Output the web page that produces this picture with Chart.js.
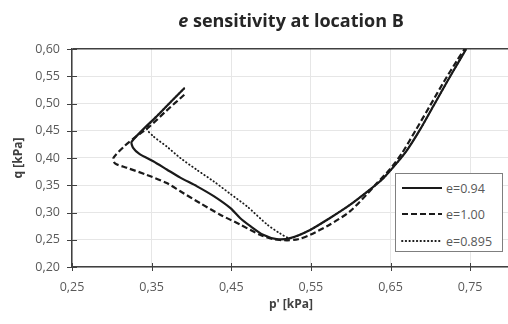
<!DOCTYPE html>
<html>
<head>
<meta charset="utf-8">
<script src="https://cdn.jsdelivr.net/npm/chart.js@4/dist/chart.umd.min.js"></script>
<style>
  html, body { margin: 0; padding: 0; background: #fff; overflow: hidden; }
  #wrap { position: relative; width: 512px; height: 324px; }
  #title {
    position: absolute; left: 72px; width: 438px; top: 8px; line-height: 24px;
    text-align: center; font: bold 18px "Open Sans", sans-serif; color: #262626;
  }
  #legend {
    position: absolute; left: 395px; top: 173px; width: 108px; height: 79px;
    box-sizing: border-box; border: 1.5px solid #7f7f7f; background: #fff;
  }
  .row {
    position: absolute; left: 5px; height: 16px; display: flex; align-items: center;
    font: 12.5px "Open Sans", sans-serif; color: #595959; white-space: nowrap;
  }
  .row svg { margin-right: 4px; }
</style>
</head>
<body>
<div id="wrap">
  <canvas id="c" width="512" height="324"></canvas>
  <div id="title"><i>e</i> sensitivity at location B</div>
  <div id="legend"></div>
</div>
<script>
// Tick values for both axes
const xTicks = [0.25, 0.35, 0.45, 0.55, 0.65, 0.75];
const yTicks = [0.20, 0.25, 0.30, 0.35, 0.40, 0.45, 0.50, 0.55, 0.60];

// Series labels
const seriesLabels = ['e=0.94', 'e=1.00', 'e=0.895'];

// Stress path e=0.94 (p' and q in kPa)
const pE094 = [0.391, 0.358, 0.325, 0.327, 0.335, 0.352, 0.369, 0.386, 0.407, 0.428, 0.449, 0.461, 0.474, 0.490, 0.507, 0.524, 0.549, 0.574, 0.599, 0.624, 0.641, 0.658, 0.671, 0.687, 0.704, 0.721, 0.737, 0.745];
const qE094 = [0.528, 0.479, 0.430, 0.418, 0.407, 0.394, 0.379, 0.364, 0.348, 0.330, 0.308, 0.290, 0.275, 0.259, 0.251, 0.253, 0.268, 0.290, 0.314, 0.342, 0.363, 0.391, 0.415, 0.452, 0.496, 0.540, 0.580, 0.600];

// Stress path e=1.00
const pE100 = [0.391, 0.368, 0.346, 0.331, 0.316, 0.302, 0.304, 0.319, 0.344, 0.369, 0.386, 0.411, 0.436, 0.461, 0.486, 0.503, 0.520, 0.534, 0.549, 0.574, 0.599, 0.620, 0.633, 0.649, 0.664, 0.682, 0.700, 0.717, 0.734, 0.743];
const qE100 = [0.516, 0.486, 0.456, 0.440, 0.422, 0.400, 0.390, 0.382, 0.369, 0.354, 0.339, 0.317, 0.296, 0.278, 0.259, 0.251, 0.249, 0.251, 0.259, 0.278, 0.302, 0.333, 0.354, 0.379, 0.408, 0.452, 0.497, 0.540, 0.580, 0.600];

// Stress path e=0.895
const pE0895 = [0.391, 0.366, 0.344, 0.352, 0.369, 0.386, 0.407, 0.428, 0.449, 0.470, 0.495, 0.511, 0.524, 0.549, 0.574, 0.599, 0.624, 0.641, 0.658, 0.671, 0.687, 0.704, 0.721, 0.737, 0.745];
const qE0895 = [0.528, 0.491, 0.455, 0.440, 0.421, 0.400, 0.378, 0.357, 0.334, 0.311, 0.278, 0.262, 0.253, 0.268, 0.290, 0.314, 0.342, 0.363, 0.391, 0.415, 0.452, 0.496, 0.540, 0.580, 0.600];

const toPoints = (ps, qs) => ps.map((p, i) => ({ x: p, y: qs[i] }));
const commaFmt = v => Number(v).toFixed(2).replace('.', ',');

const AXIS = '#404040';
const GRID = '#e6e6e6';
const LABEL = '#595959';
const FONT = '"Open Sans", sans-serif';

// Excel-style tick marks that cross the axis line
const crossTicks = {
  id: 'crossTicks',
  afterDraw(chart) {
    const { ctx, chartArea, scales } = chart;
    ctx.save();
    ctx.strokeStyle = AXIS;
    ctx.lineWidth = 1;
    ctx.beginPath();
    xTicks.forEach(v => {
      const x = Math.round(scales.x.getPixelForValue(v)) + 0.5;
      ctx.moveTo(x, chartArea.bottom - 4);
      ctx.lineTo(x, chartArea.bottom + 4);
    });
    yTicks.forEach(v => {
      const y = Math.round(scales.y.getPixelForValue(v)) + 0.5;
      ctx.moveTo(chartArea.left - 5, y);
      ctx.lineTo(chartArea.left + 5, y);
    });
    ctx.stroke();
    ctx.restore();
  }
};

const chart = new Chart(document.getElementById('c'), {
  type: 'scatter',
  data: {
    datasets: [
      { label: seriesLabels[0], data: toPoints(pE094, qE094), borderWidth: 2.2, borderDash: [] },
      { label: seriesLabels[1], data: toPoints(pE100, qE100), borderWidth: 2.2, borderDash: [6, 3] },
      { label: seriesLabels[2], data: toPoints(pE0895, qE0895), borderWidth: 1.8, borderDash: [0.5, 3.2], borderCapStyle: 'round' }
    ].map(d => Object.assign({
      showLine: true, pointRadius: 0, pointHoverRadius: 0, tension: 0.25,
      borderColor: '#1a1a1a', backgroundColor: '#1a1a1a', fill: false
    }, d))
  },
  options: {
    responsive: false,
    devicePixelRatio: 1,
    animation: false,
    events: [],
    layout: { padding: { top: 49, right: 2, bottom: 0, left: 0 } },
    plugins: { legend: { display: false }, title: { display: false }, tooltip: { enabled: false } },
    scales: {
      x: {
        type: 'linear', min: 0.25, max: 0.80,
        afterBuildTicks: s => { s.ticks = xTicks.map(v => ({ value: v })); },
        afterFit: s => { s.height = 57; },
        ticks: { callback: commaFmt, color: LABEL, font: { family: FONT, size: 12.5 }, padding: 13, maxRotation: 0, autoSkip: false },
        grid: { color: GRID, lineWidth: 1, drawTicks: false },
        border: { display: true, color: AXIS, width: 1.5 },
        title: { display: true, text: "p' [kPa]", color: '#404040', font: { family: FONT, size: 12, weight: 'bold' }, padding: { top: 4, bottom: 12 } }
      },
      y: {
        type: 'linear', min: 0.20, max: 0.60,
        afterBuildTicks: s => { s.ticks = yTicks.map(v => ({ value: v })); },
        afterFit: s => { s.width = 72; },
        ticks: { callback: commaFmt, color: LABEL, font: { family: FONT, size: 12.5 }, padding: 12, autoSkip: false },
        grid: {
          color: c => (c.tick && c.tick.value === 0.60 ? AXIS : GRID),
          lineWidth: c => (c.tick && c.tick.value === 0.60 ? 1.5 : 1),
          drawTicks: false
        },
        border: { display: true, color: AXIS, width: 1.5 },
        title: { display: true, text: 'q [kPa]', color: '#404040', font: { family: FONT, size: 12, weight: 'bold' }, padding: { top: 11, bottom: 4 } }
      }
    }
  },
  plugins: [crossTicks]
});

// Legend box built from the chart's datasets
const legend = document.getElementById('legend');
const rowTops = [6, 32, 59];
chart.data.datasets.forEach((ds, i) => {
  const row = document.createElement('div');
  row.className = 'row';
  row.style.top = rowTops[i] + 'px';
  const dash = (ds.borderDash || []).join(' ');
  const cap = ds.borderCapStyle || 'butt';
  row.innerHTML =
    '<svg width="41" height="6"><line x1="1" y1="3" x2="41" y2="3" stroke="' + ds.borderColor +
    '" stroke-width="' + ds.borderWidth + '" stroke-linecap="' + cap + '"' +
    (dash ? ' stroke-dasharray="' + dash + '"' : '') + '/></svg>';
  const t = document.createElement('span');
  t.textContent = ds.label;
  row.appendChild(t);
  legend.appendChild(row);
});
</script>
</body>
</html>
